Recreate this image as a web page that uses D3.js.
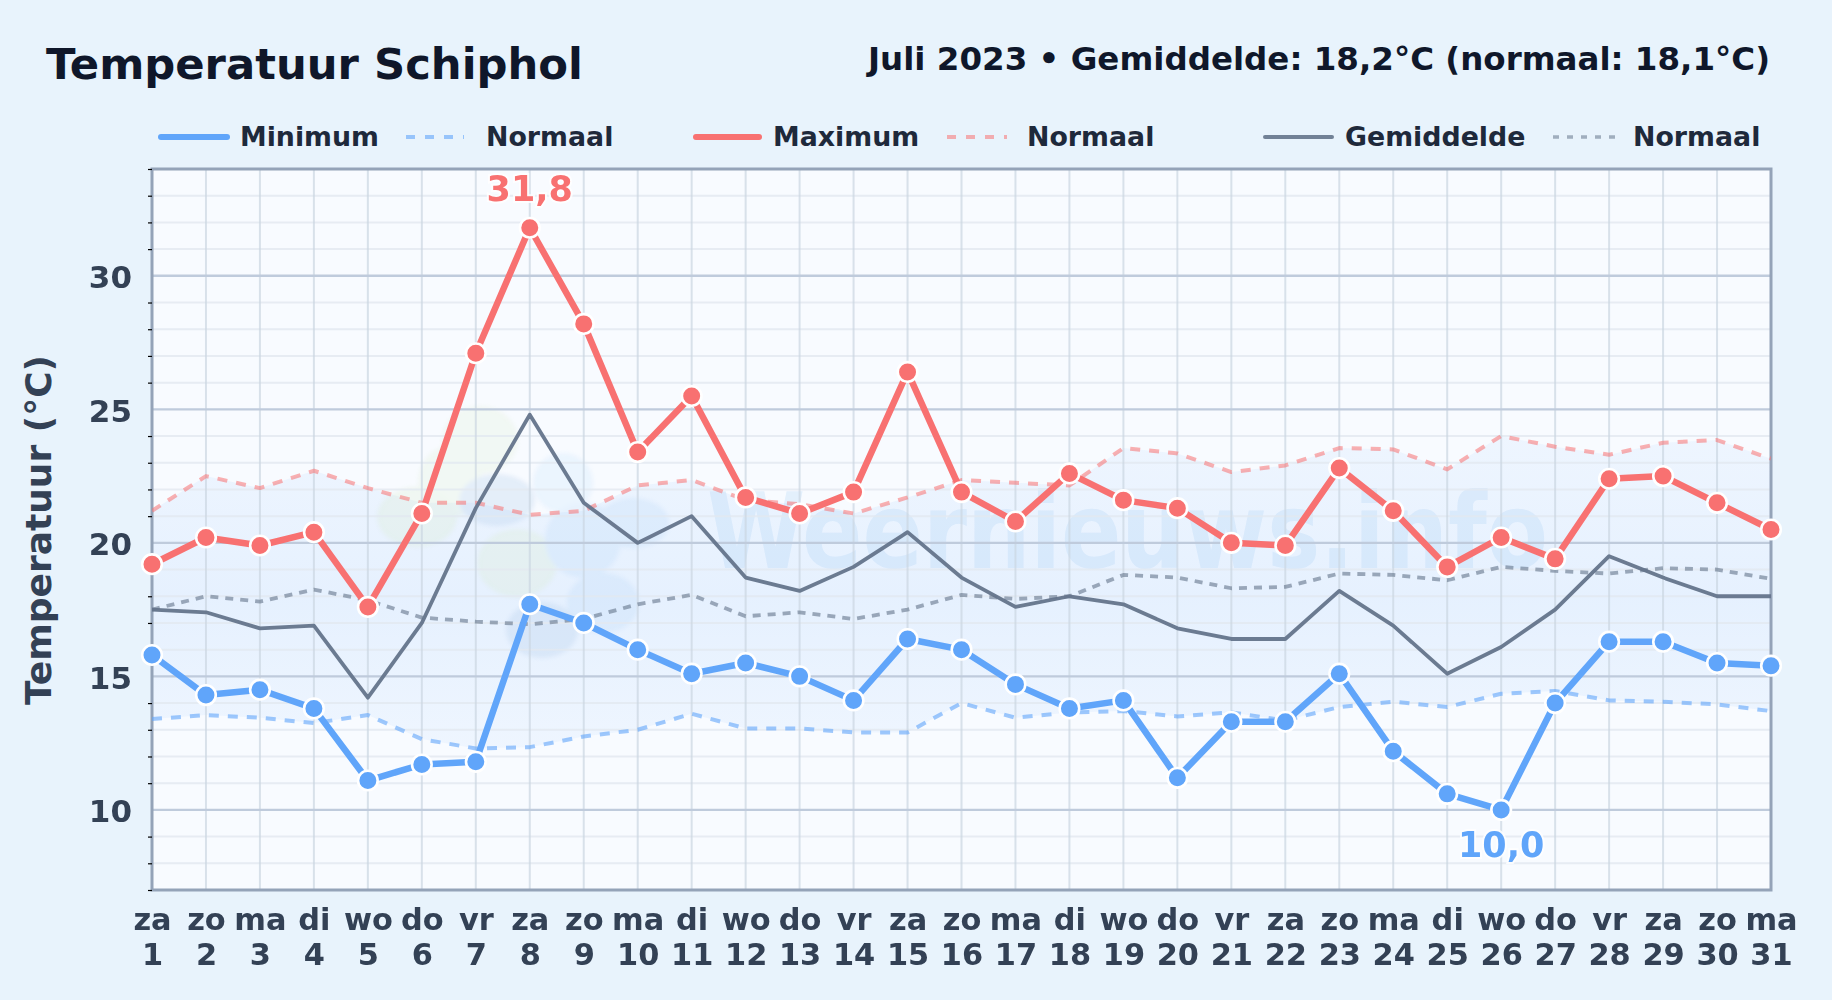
<!doctype html>
<html>

<head>
  <meta charset="utf8"/>
  <style>
    html, body { margin: 0; padding: 0; background: #e8f3fc; }
    svg { display: block; font-family: 'DejaVu Sans', sans-serif; font-weight: bold; }
  </style>
</head>

<body>
  <svg width='1832' height='1000'></svg>
  <script src="https://d3js.org/d3.v7.min.js"></script>

  <script>

    var weekdays = ['za','zo','ma','di','wo','do','vr','za','zo','ma','di','wo','do','vr','za','zo','ma','di','wo','do','vr','za','zo','ma','di','wo','do','vr','za','zo','ma'];
    var days = d3.range(1, 32);

    var minimum = [15.8,14.3,14.5,13.8,11.1,11.7,11.8,17.7,17.0,16.0,15.1,15.5,15.0,14.1,16.4,16.0,14.7,13.8,14.1,11.2,13.3,13.3,15.1,12.2,10.6,10.0,14.0,16.3,16.3,15.5,15.4];
    var maximum = [19.2,20.2,19.9,20.4,17.6,21.1,27.1,31.8,28.2,23.4,25.5,21.7,21.1,21.9,26.4,21.9,20.8,22.6,21.6,21.3,20.0,19.9,22.8,21.2,19.1,20.2,19.4,22.4,22.5,21.5,20.5];
    var gemiddelde = [17.5,17.4,16.8,16.9,14.2,17.0,21.3,24.8,21.5,20.0,21.0,18.7,18.2,19.1,20.4,18.7,17.6,18.0,17.7,16.8,16.4,16.4,18.2,16.9,15.1,16.1,17.5,19.5,18.7,18.0,18.0];
    var normaalMin = [13.4,13.55,13.45,13.25,13.55,12.65,12.3,12.35,12.75,13.0,13.6,13.05,13.05,12.9,12.9,14.0,13.45,13.65,13.7,13.5,13.65,13.35,13.85,14.05,13.85,14.35,14.45,14.1,14.05,13.95,13.7];
    var normaalMax = [21.2,22.5,22.05,22.7,22.05,21.5,21.5,21.05,21.2,22.15,22.35,21.6,21.45,21.1,21.7,22.35,22.25,22.15,23.55,23.35,22.65,22.9,23.55,23.5,22.75,24.0,23.6,23.3,23.75,23.85,23.15];
    var normaalGem = [17.5,18.0,17.8,18.25,17.85,17.2,17.05,16.95,17.15,17.7,18.05,17.25,17.4,17.15,17.5,18.05,17.9,18.0,18.8,18.7,18.3,18.35,18.85,18.8,18.6,19.1,18.95,18.85,19.05,19.0,18.65];

    var majorTicks = [10, 15, 20, 25, 30];
    var minorTicks = d3.range(7, 35).filter(function(d) { return majorTicks.indexOf(d) < 0; });

    var colors = {
      min: '#60a5fa', max: '#f87171', mean: '#64748b',
      text: '#334155', legend: '#1e293b', title: '#0f172a', frame: '#94a3b8'
    };

    var svg = d3.select('svg'),
        margin = {top: 169, right: 61, bottom: 110, left: 152},
        width = +svg.attr('width') - margin.left - margin.right,
        height = +svg.attr('height') - margin.top - margin.bottom;

    var defs = svg.append('defs');
    var bandGrad = defs.append('linearGradient').attr('id', 'band')
      .attr('gradientUnits', 'userSpaceOnUse')
      .attr('x1', 0).attr('y1', 0).attr('x2', 0).attr('y2', height);
    bandGrad.append('stop').attr('offset', '30%').attr('stop-color', '#60a5fa').attr('stop-opacity', 0.05);
    bandGrad.append('stop').attr('offset', '60%').attr('stop-color', '#60a5fa').attr('stop-opacity', 0.12);
    bandGrad.append('stop').attr('offset', '85%').attr('stop-color', '#60a5fa').attr('stop-opacity', 0.05);
    defs.append('filter').attr('id', 'soft').append('feGaussianBlur').attr('stdDeviation', 2);
    defs.append('clipPath').attr('id', 'plotclip').append('rect')
      .attr('width', width).attr('height', height);

    var x = d3.scaleLinear().domain([1, 31]).range([0, width]);
    var y = d3.scaleLinear().domain([7, 34]).range([height, 0]);

    var line = d3.line()
                 .x(function(d, i) { return x(days[i]); })
                 .y(function(d) { return y(d); });

    var area = d3.area()
                 .x(function(d, i) { return x(days[i]); })
                 .y0(function(d, i) { return y(normaalMin[i]); })
                 .y1(function(d) { return y(d); });

    var g = svg.append('g').attr('transform', 'translate(' + margin.left + ',' + margin.top + ')');

    g.append('rect').attr('width', width).attr('height', height).attr('fill', '#f8fbff');
    g.append('path').datum(normaalMax).attr('fill', 'url(#band)').attr('d', area);

    // watermark: logo blobs and site name
    var logoBlobs = [
      [480, 440, 38, 34, '#dfeed0'], [450, 482, 32, 36, '#dfeed0'], [417, 517, 40, 30, '#d8ebc8'], [517, 563, 40, 34, '#d8ebc8'],
      [497, 500, 38, 26, '#a9c6e6'], [563, 483, 30, 30, '#c4e2fb'], [633, 523, 36, 25, '#b5d6f7'],
      [583, 540, 38, 38, '#b5d6f7'], [603, 603, 36, 30, '#b5d6f7'], [542, 630, 36, 28, '#a9c6e6']
    ];
    var mark = svg.append('g').attr('opacity', 0.25);
    mark.append('g').attr('filter', 'url(#soft)').selectAll('ellipse').data(logoBlobs).enter().append('ellipse')
      .attr('cx', function(d) { return d[0]; })
      .attr('cy', function(d) { return d[1]; })
      .attr('rx', function(d) { return d[2]; })
      .attr('ry', function(d) { return d[3]; })
      .attr('fill', function(d) { return d[4]; });
    mark.append('text')
      .attr('x', 707).attr('y', 568)
      .attr('textLength', 841).attr('lengthAdjust', 'spacingAndGlyphs')
      .attr('font-size', 106)
      .attr('fill', '#a5cdf3')
      .text('Weernieuws.info');

    var plot = svg.append('g').attr('transform', 'translate(' + margin.left + ',' + margin.top + ')');

    // grid
    plot.append('g').selectAll('line').data(minorTicks).enter().append('line')
      .attr('x1', 0).attr('x2', width)
      .attr('y1', function(d) { return y(d); }).attr('y2', function(d) { return y(d); })
      .attr('stroke', '#e2e8f0').attr('stroke-opacity', 0.8).attr('stroke-width', 2);
    plot.append('g').selectAll('line').data(days).enter().append('line')
      .attr('x1', function(d) { return x(d); }).attr('x2', function(d) { return x(d); })
      .attr('y1', 0).attr('y2', height)
      .attr('stroke', '#cbd5e1').attr('stroke-opacity', 0.7).attr('stroke-width', 2);
    plot.append('g').selectAll('line').data(majorTicks).enter().append('line')
      .attr('x1', 0).attr('x2', width)
      .attr('y1', function(d) { return y(d); }).attr('y2', function(d) { return y(d); })
      .attr('stroke', '#bfcbdc').attr('stroke-width', 2.4);

    // frame
    plot.append('rect')
      .attr('width', width).attr('height', height)
      .attr('fill', 'none').attr('stroke', colors.frame).attr('stroke-width', 3);

    // axes
    var minorAxis = plot.append('g')
      .call(d3.axisLeft(y).tickValues(minorTicks).tickSize(4).tickFormat(''));
    minorAxis.select('.domain').remove();
    minorAxis.selectAll('line').attr('stroke', '#000').attr('stroke-width', 1.2);

    var yAxis = plot.append('g')
      .call(d3.axisLeft(y).tickValues(majorTicks).tickSize(0).tickPadding(20));
    yAxis.select('.domain').remove();
    yAxis.selectAll('text')
      .attr('font-size', 31).attr('font-family', "'DejaVu Sans'").attr('font-weight', 'bold')
      .attr('dy', '0.38em')
      .attr('fill', colors.text);

    var xAxis = plot.append('g')
      .attr('transform', 'translate(0,' + height + ')')
      .call(d3.axisBottom(x).tickValues(days).tickSize(0).tickFormat(''));
    xAxis.select('.domain').remove();
    xAxis.selectAll('text')
      .attr('font-size', 30.4).attr('font-family', "'DejaVu Sans'").attr('font-weight', 'bold')
      .attr('fill', colors.text)
      .attr('y', 0).attr('dy', 0)
      .each(function(d, i) {
        var t = d3.select(this);
        t.append('tspan').attr('x', 0).attr('y', 40).text(weekdays[i]);
        t.append('tspan').attr('x', 0).attr('y', 75).text(days[i]);
      });

    svg.append('text')
      .attr('transform', 'translate(51,530) rotate(-90)')
      .attr('text-anchor', 'middle')
      .attr('font-size', 36).attr('fill', colors.text)
      .text('Temperatuur (°C)');

    // series
    var series = plot.append('g');
    function drawLine(data, color, w, dash, opacity) {
      series.append('path').datum(data)
        .attr('fill', 'none')
        .attr('stroke', color)
        .attr('stroke-width', w)
        .attr('stroke-opacity', opacity)
        .attr('stroke-dasharray', dash)
        .attr('stroke-linejoin', 'round')
        .attr('clip-path', 'url(#plotclip)')
        .attr('d', line);
    }
    drawLine(normaalGem, colors.mean, 3.8, '8,7', 0.6);
    drawLine(normaalMax, colors.max, 4, '10,9', 0.55);
    drawLine(normaalMin, colors.min, 4, '10,9', 0.6);
    drawLine(gemiddelde, colors.mean, 3.8, null, 0.95);
    drawLine(minimum, colors.min, 6.5, null, 1);
    drawLine(maximum, colors.max, 6.5, null, 1);

    function drawPoints(data, color) {
      series.append('g').selectAll('circle').data(data).enter().append('circle')
        .attr('cx', function(d, i) { return x(days[i]); })
        .attr('cy', function(d) { return y(d); })
        .attr('r', 9.8)
        .attr('fill', color)
        .attr('stroke', '#fff')
        .attr('stroke-width', 2.6);
    }
    drawPoints(minimum, colors.min);
    drawPoints(maximum, colors.max);

    function extremeLabel(data, value, color, dy) {
      var i = data.indexOf(value);
      plot.append('text')
        .attr('x', x(days[i])).attr('y', y(value) + dy)
        .attr('text-anchor', 'middle')
        .attr('font-size', 35)
        .attr('fill', color)
        .attr('stroke', '#fff').attr('stroke-width', 4).attr('stroke-opacity', 0.8)
        .attr('paint-order', 'stroke')
        .text(d3.format('.1f')(value).replace('.', ','));
    }
    extremeLabel(maximum, d3.max(maximum), colors.max, -27);
    extremeLabel(minimum, d3.min(minimum), colors.min, 47);

    // titles
    svg.append('text').attr('x', 46).attr('y', 79)
      .attr('font-size', 43.3).attr('fill', colors.title)
      .text('Temperatuur Schiphol');
    svg.append('text').attr('x', 1770).attr('y', 70)
      .attr('text-anchor', 'end')
      .attr('font-size', 32.5).attr('fill', colors.title)
      .text('Juli 2023 • Gemiddelde: 18,2°C (normaal: 18,1°C)');

    // legend
    var legendItems = [
      {label: 'Minimum', x1: 161, x2: 227, tx: 240, color: colors.min, w: 6, dash: null, op: 1},
      {label: 'Normaal', x1: 406, x2: 464, tx: 486, color: colors.min, w: 4, dash: '9,10', op: 0.6},
      {label: 'Maximum', x1: 696, x2: 759, tx: 773, color: colors.max, w: 6, dash: null, op: 1},
      {label: 'Normaal', x1: 947, x2: 1007, tx: 1027, color: colors.max, w: 4, dash: '9,10', op: 0.55},
      {label: 'Gemiddelde', x1: 1265, x2: 1332, tx: 1345, color: colors.mean, w: 4, dash: null, op: 0.9},
      {label: 'Normaal', x1: 1553, x2: 1618, tx: 1633, color: colors.mean, w: 3.5, dash: '6,8', op: 0.55}
    ];
    var legend = svg.append('g').selectAll('g').data(legendItems).enter().append('g');
    legend.append('line')
      .attr('x1', function(d) { return d.x1; }).attr('x2', function(d) { return d.x2; })
      .attr('y1', 137).attr('y2', 137)
      .attr('stroke', function(d) { return d.color; })
      .attr('stroke-width', function(d) { return d.w; })
      .attr('stroke-opacity', function(d) { return d.op; })
      .attr('stroke-dasharray', function(d) { return d.dash; })
      .attr('stroke-linecap', function(d) { return d.dash ? 'butt' : 'round'; });
    legend.append('text')
      .attr('x', function(d) { return d.tx; }).attr('y', 146)
      .attr('font-size', 26.8).attr('fill', colors.legend)
      .text(function(d) { return d.label; });

  </script>
</body>

</html>
